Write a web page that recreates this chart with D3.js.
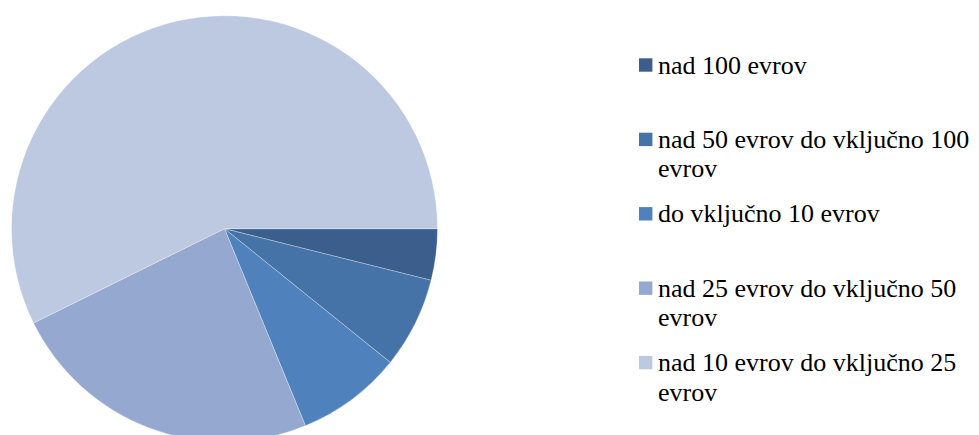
<!DOCTYPE html>
<html><head><meta charset="utf-8"><script src="https://cdn.jsdelivr.net/npm/d3@7"></script>
<style>
  svg text { font-family: "Liberation Serif", serif !important; }
</style>
</head>
<body style="margin:0">
<svg id="chart" width="979" height="435"></svg>
<script>
// Spending categories and their shares (%)
const categories = [
  "nad 100 evrov",
  "nad 50 evrov do vključno 100 evrov",
  "do vključno 10 evrov",
  "nad 25 evrov do vključno 50 evrov",
  "nad 10 evrov do vključno 25 evrov"
];
const shares = [3.9, 6.9, 8.0, 23.9, 57.3];
const colors = ["#3b5e8c", "#4572a7", "#4f81bd", "#95a9d0", "#bdc9e1"];

const svg = d3.select("#chart");
const cx = 224.5, cy = 228.7, radius = 213;

const data = categories.map((c, i) => ({ name: c, value: shares[i], color: colors[i] }));

const pie = d3.pie()
  .sort(null)
  .value(d => d.value)
  .startAngle(Math.PI / 2)
  .endAngle(Math.PI / 2 + 2 * Math.PI);

const arc = d3.arc().innerRadius(0).outerRadius(radius);

svg.append("g")
  .attr("transform", `translate(${cx},${cy})`)
  .selectAll("path")
  .data(pie(data))
  .join("path")
  .attr("d", arc)
  .attr("fill", d => d.data.color)
  .attr("stroke", "#ffffff")
  .attr("stroke-opacity", 0.5)
  .attr("stroke-width", 0.6);

// Legend: colour key plus label, wrapped by character count
const legendX = 639, textX = 658, firstY = 65, step = 74.4;
const lineH = 29.5, maxChars = 28;

function wrap(str) {
  const lines = [];
  let cur = "";
  str.split(" ").forEach(w => {
    const next = cur ? cur + " " + w : w;
    if (next.length > maxChars && cur) { lines.push(cur); cur = w; }
    else cur = next;
  });
  lines.push(cur);
  return lines;
}

data.forEach((d, i) => {
  const yc = firstY + i * step;
  svg.append("rect")
    .attr("x", legendX).attr("y", yc - 6.7)
    .attr("width", 13.4).attr("height", 13.4)
    .attr("fill", d.color);

  wrap(d.name).forEach((ln, j) => {
    svg.append("text")
      .attr("x", textX).attr("y", yc + 8.5 + j * lineH)
      .attr("font-family", "Liberation Serif")
      .style("font-family", "'Liberation Serif', serif")
      .attr("font-size", 26)
      .text(ln);
  });
});
</script></body></html>
